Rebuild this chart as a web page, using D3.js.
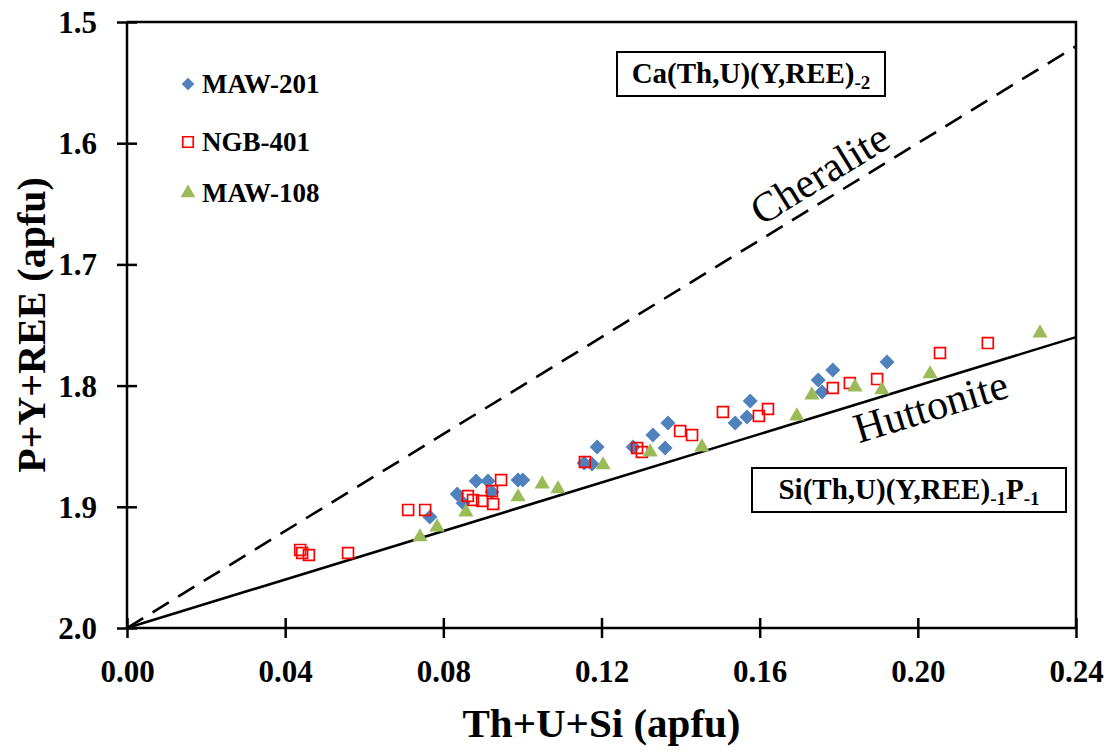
<!DOCTYPE html>
<html>
<head>
<meta charset="utf-8">
<script src="https://cdn.jsdelivr.net/npm/d3@7"></script>
<style>
  html, body { margin: 0; padding: 0; background: #fff; }
  svg { display: block; font-family: "Liberation Serif", "Times New Roman", serif; }
</style>
</head>
<body>
<svg id="chart" width="1112" height="753"></svg>
<script>
// Th+U+Si (x) vs P+Y+REE (y), apfu
const maw201 = [
  [0.0766, 1.9084], [0.0835, 1.8894], [0.0850, 1.8969], [0.0883, 1.8787],
  [0.0913, 1.8787], [0.0923, 1.8878], [0.0989, 1.8779], [0.1001, 1.8779],
  [0.1156, 1.8639], [0.1176, 1.8647], [0.1189, 1.8507], [0.1280, 1.8507],
  [0.1330, 1.8408], [0.1361, 1.8515], [0.1368, 1.8309], [0.1538, 1.8309],
  [0.1568, 1.8259], [0.1576, 1.8127], [0.1748, 1.7954], [0.1758, 1.8053],
  [0.1785, 1.7871], [0.1922, 1.7805]
];
const ngb401 = [
  [0.0438, 1.9356], [0.0443, 1.9381], [0.0460, 1.9398], [0.0559, 1.9381],
  [0.0711, 1.9026], [0.0754, 1.9026], [0.0862, 1.8911], [0.0875, 1.8944],
  [0.0898, 1.8952], [0.0923, 1.8870], [0.0926, 1.8977], [0.0946, 1.8779],
  [0.1158, 1.8630], [0.1290, 1.8515], [0.1302, 1.8548], [0.1399, 1.8375],
  [0.1429, 1.8408], [0.1507, 1.8218], [0.1598, 1.8251], [0.1621, 1.8193],
  [0.1785, 1.8020], [0.1828, 1.7979], [0.1897, 1.7946], [0.2056, 1.7731],
  [0.2177, 1.7649]
];
const maw108 = [
  [0.0741, 1.9249], [0.0784, 1.9167], [0.0857, 1.9043], [0.0989, 1.8919],
  [0.1050, 1.8812], [0.1090, 1.8853], [0.1204, 1.8655], [0.1323, 1.8548],
  [0.1454, 1.8507], [0.1694, 1.8251], [0.1732, 1.8078], [0.1841, 1.8012],
  [0.1909, 1.8036], [0.2031, 1.7904], [0.2309, 1.7566]
];
// substitution trend lines
const cheraliteLine = [[0, 2.0], [0.24, 1.52]];
const huttoniteLine = [[0, 2.0], [0.24, 1.76]];

const xTicks = [0, 0.04, 0.08, 0.12, 0.16, 0.20, 0.24];
const yTicks = [1.5, 1.6, 1.7, 1.8, 1.9, 2.0];
const seriesNames = ["MAW-201", "NGB-401", "MAW-108"];

const svg = d3.select("#chart");
const plotL = 127, plotR = 1076, plotT = 22, plotB = 628;
const x = d3.scaleLinear().domain([0, 0.24]).range([plotL, plotR]);
const y = d3.scaleLinear().domain([1.5, 2.0]).range([plotT, plotB]);

const blue = "#4F81BD", red = "#FF0000", green = "#9BBB59";

// frame (top and right edges)
svg.append("path")
  .attr("d", `M${plotL},${plotT}H${plotR}V${plotB}`)
  .attr("fill", "none").attr("stroke", "#000").attr("stroke-width", 2.5);

// axes with ticks crossing the axis line
const xAxis = svg.append("g").attr("transform", `translate(0,${plotB})`)
  .call(d3.axisBottom(x).tickValues(xTicks).tickFormat(d3.format(".2f")).tickSize(10).tickPadding(22));
xAxis.selectAll(".tick line").attr("y1", -10).attr("y2", 10);
const yAxis = svg.append("g").attr("transform", `translate(${plotL},0)`)
  .call(d3.axisLeft(y).tickValues(yTicks).tickFormat(d3.format(".1f")).tickSize(10).tickPadding(20));
yAxis.selectAll(".tick line").attr("x1", 10).attr("x2", -10);
xAxis.select(".domain").attr("d", `M${plotL},0H${plotR}`);
yAxis.select(".domain").attr("d", `M0,${plotT}V${plotB}`);
[xAxis, yAxis].forEach(g => {
  g.select(".domain").attr("stroke-width", 2.5);
  g.selectAll(".tick line").attr("stroke-width", 2.5);
  g.selectAll(".tick text").attr("font-family", "Liberation Serif").attr("font-weight", "bold")
    .attr("font-size", 31).attr("fill", "#000");
});
yAxis.selectAll(".tick text").attr("dy", "0.34em");

// trend lines
const line = d3.line().x(d => x(d[0])).y(d => y(d[1]));
svg.append("path").attr("d", line(cheraliteLine)).attr("fill", "none")
  .attr("stroke", "#000").attr("stroke-width", 2.6).attr("stroke-dasharray", "19,11");
svg.append("path").attr("d", line(huttoniteLine)).attr("fill", "none")
  .attr("stroke", "#000").attr("stroke-width", 2.6);

// line labels, rotated along each line
function lineLabel(pts, xv, offset, text) {
  const [p0, p1] = pts;
  const ang = Math.atan2(y(p1[1]) - y(p0[1]), x(p1[0]) - x(p0[0]));
  const yv = p0[1] + (p1[1] - p0[1]) * (xv - p0[0]) / (p1[0] - p0[0]);
  const px = x(xv) - offset * Math.sin(ang);
  const py = y(yv) + offset * Math.cos(ang);
  svg.append("text")
    .attr("transform", `translate(${px},${py}) rotate(${ang * 180 / Math.PI})`)
    .attr("text-anchor", "middle").attr("font-family", "Liberation Serif")
    .attr("font-size", 42).attr("fill", "#000")
    .text(text);
}
lineLabel(cheraliteLine, 0.1785, -11, "Cheralite");
lineLabel(huttoniteLine, 0.2015, 38, "Huttonite");

// data points
const diamond = d3.symbol().type(d3.symbolSquare).size(112);
const square = d3.symbol().type(d3.symbolSquare).size(118);
const tri = d3.symbol().type(d3.symbolTriangle).size(100);

svg.append("g").selectAll("path").data(maw201).join("path")
  .attr("d", diamond).attr("fill", blue)
  .attr("transform", d => `translate(${x(d[0])},${y(d[1])}) rotate(45)`);
svg.append("g").selectAll("path").data(ngb401).join("path")
  .attr("d", square).attr("fill", "none").attr("stroke", red).attr("stroke-width", 1.7)
  .attr("transform", d => `translate(${x(d[0])},${y(d[1])})`);
svg.append("g").selectAll("path").data(maw108).join("path")
  .attr("d", tri).attr("fill", green)
  .attr("transform", d => `translate(${x(d[0])},${y(d[1])})`);

// legend
const legend = svg.append("g").attr("font-weight", "bold").attr("font-size", 27);
const legY = [84, 142, 193];
legend.append("path").attr("d", d3.symbol().type(d3.symbolSquare).size(80))
  .attr("fill", blue).attr("transform", `translate(188,${legY[0]}) rotate(45)`);
legend.append("path").attr("d", d3.symbol().type(d3.symbolSquare).size(110))
  .attr("fill", "none").attr("stroke", red).attr("stroke-width", 1.7)
  .attr("transform", `translate(188,${legY[1]})`);
legend.append("path").attr("d", d3.symbol().type(d3.symbolTriangle).size(95))
  .attr("fill", green).attr("transform", `translate(188,${legY[2]})`);
seriesNames.forEach((n, i) => {
  legend.append("text").attr("x", 202).attr("y", legY[i]).attr("dy", "0.35em").text(n);
});

// reaction boxes
function formulaBox(x0, y0, w, h, parts, baseline) {
  svg.append("rect").attr("x", x0).attr("y", y0).attr("width", w).attr("height", h)
    .attr("fill", "#fff").attr("stroke", "#000").attr("stroke-width", 2);
  const t = svg.append("text").attr("x", x0 + w / 2).attr("y", baseline)
    .attr("text-anchor", "middle").attr("font-weight", "bold").attr("font-size", 29);
  parts.forEach(p => {
    const s = t.append("tspan").text(p[0]);
    if (p[1] === "sub") s.attr("font-size", 19).attr("dy", 6);
    else if (p[1] === "up") s.attr("dy", -6);
  });
}
formulaBox(617, 52, 268, 44, [["Ca(Th,U)(Y,REE)"], ["-2", "sub"]], 83);
formulaBox(752, 468, 314, 44, [["Si(Th,U)(Y,REE)"], ["-1", "sub"], ["P", "up"], ["-1", "sub"]], 499);

// axis titles
svg.append("text").attr("x", (plotL + plotR) / 2).attr("y", 737)
  .attr("text-anchor", "middle").attr("font-weight", "bold").attr("font-size", 41)
  .text("Th+U+Si (apfu)");
svg.append("text").attr("transform", `translate(45,${(plotT + plotB) / 2}) rotate(-90)`)
  .attr("text-anchor", "middle").attr("font-weight", "bold").attr("font-size", 40)
  .text("P+Y+REE (apfu)");
</script>
</body>
</html>
